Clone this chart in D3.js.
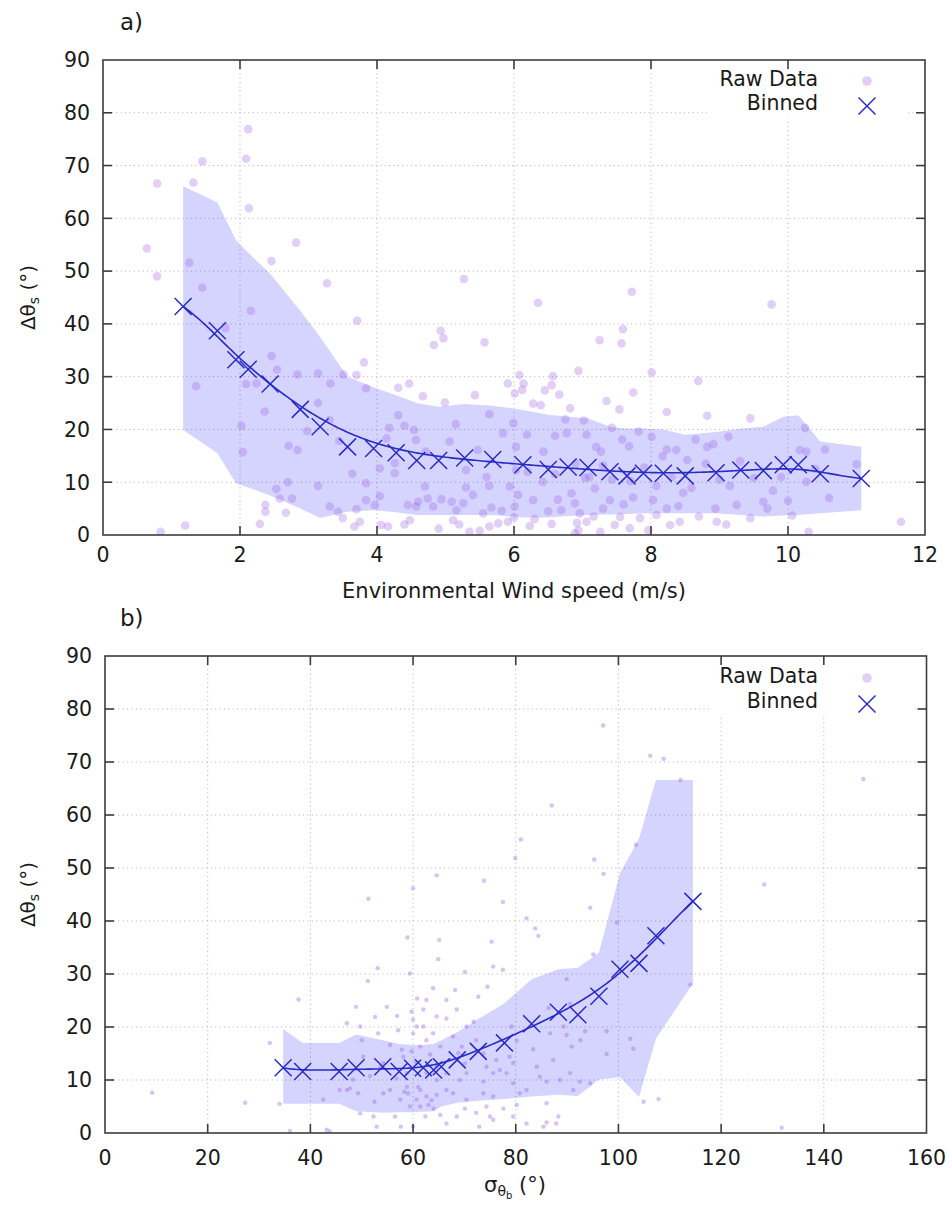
<!DOCTYPE html>
<html>
<head>
<meta charset="utf-8">
<script src="https://cdn.jsdelivr.net/npm/d3@7"></script>
<style>
  html, body { margin: 0; padding: 0; background: #fff; }
  svg { display: block; font-family: "DejaVu Sans", sans-serif; }
</style>
</head>
<body>
<svg id="chart" width="952" height="1209"></svg>
<script>
// ---------------- DATA ----------------
const yTicks = [0, 10, 20, 30, 40, 50, 60, 70, 80, 90];
const topXTicks = [0, 2, 4, 6, 8, 10, 12];
const botXTicks = [0, 20, 40, 60, 80, 100, 120, 140, 160];

// Panel a) binned values
const topBinX = [1.17,1.67,1.94,2.12,2.44,2.88,3.17,3.57,3.95,4.28,4.58,4.90,5.28,5.69,6.13,6.50,6.79,7.08,7.40,7.65,7.89,8.18,8.50,8.95,9.31,9.64,9.93,10.15,10.47,11.07];
const topBinY = [43.3,38.7,33.2,31.4,28.6,23.8,20.5,16.7,16.4,15.6,14.1,14.1,14.6,14.3,13.3,12.4,12.9,12.8,12.0,11.2,11.7,11.7,11.2,11.8,12.3,12.2,13.3,13.3,11.6,10.7];
const topBandHi = [66.1,63.0,55.9,53.5,49.5,42.5,37.5,30.0,28.0,26.5,25.0,24.3,24.8,24.5,23.7,22.8,22.4,22.1,20.5,20.2,20.2,20.0,19.0,19.5,20.2,20.5,22.4,22.7,17.7,16.7];
const topBandLo = [19.9,15.5,9.8,9.0,7.5,5.0,3.2,4.4,4.7,4.3,3.8,3.8,3.8,3.8,3.3,3.3,3.6,3.8,3.9,4.0,4.1,4.1,4.1,4.1,3.8,3.5,3.7,3.8,4.1,4.7];

// Panel a) raw data
const topRawX = [2.12,2.09,1.45,0.79,1.32,2.13,0.64,2.82,1.26,2.46,0.79,1.45,3.27,2.16,1.79,3.71,4.93,4.97,4.83,5.57,5.27,2.46,3.81,2.54,2.84,3.14,3.51,3.70,3.32,1.36,2.09,2.24,3.84,4.31,4.47,4.67,5.43,4.99,3.14,2.36,5.91,6.01,6.08,5.64,4.31,2.02,2.98,3.31,4.18,4.40,4.54,5.15,5.84,5.99,6.03,2.04,2.71,2.84,3.45,4.14,4.57,5.06,5.47,4.04,4.26,4.26,4.71,5.30,3.64,2.70,3.14,3.84,4.70,5.64,5.94,2.53,2.58,2.76,2.37,2.37,2.67,2.29,3.31,3.43,3.50,3.70,3.84,4.04,3.97,3.67,3.75,4.06,4.16,4.45,4.57,4.60,4.74,4.82,4.94,5.09,5.16,5.26,5.40,5.55,5.67,5.82,5.91,4.48,5.11,5.35,5.50,5.64,5.77,1.20,0.84,6.01,6.06,6.03,
  6.35,9.76,7.59,7.25,7.57,7.72,6.94,8.01,6.57,6.14,6.12,6.45,6.66,6.55,8.69,7.74,7.35,6.28,6.39,6.82,7.54,8.23,8.82,9.45,6.75,7.02,7.43,7.82,6.19,6.60,6.77,7.06,7.58,8.01,8.65,9.13,10.25,6.43,7.20,7.27,7.68,8.23,8.37,8.82,8.91,10.54,10.17,10.27,8.17,8.53,11.00,6.42,7.04,7.18,7.43,8.08,8.47,8.59,9.15,9.78,10.27,6.28,6.64,6.84,6.89,7.40,7.74,8.03,8.23,9.64,6.69,6.96,7.16,7.55,7.84,8.08,8.94,9.25,6.23,6.55,6.92,7.06,7.47,7.69,7.96,8.28,8.42,8.96,9.45,10.06,10.30,11.65,6.94,7.26,6.89,
  5.30,5.60,6.20,6.60,6.90,7.10,7.30,7.70,7.90,8.30,8.80,9.00,9.30,9.50,9.90,10.40,6.50,7.30,7.60,8.40,8.70,9.10,9.70,10.00,10.60,6.00,6.30,5.20,4.90,4.40];
const topRawY = [76.9,71.3,70.8,66.6,66.8,61.9,54.3,55.4,51.6,51.9,49.0,46.9,47.7,42.5,39.2,40.6,38.7,37.3,36.0,36.5,48.5,33.9,32.7,31.3,30.4,30.6,30.4,30.3,28.7,28.2,28.6,28.7,27.8,27.9,28.7,26.3,26.5,25.1,25.0,23.4,28.7,26.8,30.3,22.9,22.7,20.7,19.7,21.8,20.3,20.7,19.9,21.0,19.3,21.2,16.7,15.7,16.9,16.1,17.8,18.3,18.0,17.7,16.1,12.6,13.6,11.7,15.8,12.3,11.6,10.0,9.3,9.8,9.2,9.3,9.2,8.7,6.9,6.9,5.7,4.4,4.2,2.1,5.4,4.4,3.2,4.9,6.6,7.4,5.7,1.6,2.5,1.9,1.6,5.7,5.4,6.3,6.9,5.4,6.8,6.3,4.7,6.0,7.6,4.1,5.2,4.6,2.5,2.8,2.8,0.6,0.8,1.6,2.2,1.8,0.6,5.4,7.6,12.3,
  44.0,43.7,39.0,36.9,36.3,46.1,31.1,30.8,30.1,28.7,27.5,27.4,26.6,28.4,29.2,27.0,25.4,24.9,24.6,24.0,23.8,23.3,22.6,22.1,21.9,21.7,20.3,19.6,19.0,18.8,19.3,19.0,18.1,18.6,18.1,18.6,20.3,15.8,16.7,15.8,16.8,16.2,16.1,16.7,17.2,16.2,16.1,15.8,14.9,14.2,13.4,10.1,10.8,8.8,10.5,9.3,8.0,8.9,9.3,8.4,10.1,6.6,6.7,7.9,6.0,6.6,7.1,6.6,5.0,6.3,4.7,4.1,3.5,3.4,3.2,3.8,5.0,5.7,1.7,2.1,2.3,2.5,1.9,1.3,0.9,1.9,2.5,2.5,3.2,3.7,0.6,2.5,0.9,0.6,0.3,
  9.0,11.0,12.0,11.5,13.5,11.0,13.2,10.2,12.8,11.0,13.5,10.5,14.0,10.8,11.0,12.5,4.5,5.0,5.8,5.5,3.5,2.0,5.0,6.5,7.0,3.3,3.0,2.0,1.2,2.0];

// Panel b) binned values
const botBinX = [34.7,38.5,45.6,48.9,54.1,57.3,59.9,62.0,64.0,65.5,68.6,72.7,77.8,83.1,88.3,92.1,96.2,100.3,104.0,107.3,114.5];
const botBinY = [12.3,11.6,11.6,12.3,12.5,11.6,12.2,12.3,11.9,12.5,13.8,15.4,17.0,20.6,22.8,22.3,25.8,30.9,32.0,37.2,43.7];
const botBandHi = [19.6,17.0,17.0,18.6,17.5,16.8,16.6,16.6,16.8,17.5,19.0,21.5,24.5,29.0,30.9,31.2,34.0,49.0,55.5,66.6,66.6];
const botBandLo = [5.5,5.5,5.5,4.1,3.8,3.9,3.9,4.0,4.1,5.0,5.7,6.1,6.4,6.9,7.2,7.0,10.1,10.5,6.8,17.8,28.2];

// Panel b) raw data
const botRawX = [64.6,73.8,60.0,51.3,77.5,82.1,83.8,84.4,65.1,58.9,75.3,64.9,53.1,51.2,48.9,37.7,56.9,59.7,60.8,62.0,63.9,68.2,70.1,72.7,74.5,75.6,77.5,71.8,64.6,66.5,60.7,62.6,57.1,61.4,57.8,63.3,68.8,47.1,47.7,49.3,52.5,54.2,58.3,59.0,61.4,62.6,63.6,64.6,66.5,67.8,69.1,70.4,73.7,75.6,79.5,80.8,84.7,88.6,91.2,49.7,52.3,56.5,61.4,62.4,65.3,68.5,70.1,74.3,77.6,86.0,87.9,82.1,52.9,57.6,60.0,66.5,72.9,85.4,43.8,94.5,89.9,86.4,83.4,80.2,79.2,47.1,49.7,53.2,55.5,50.3,53.6,56.8,58.8,62.6,64.6,58.1,60.0,67.8,70.1,73.7,75.6,78.8,
  9.2,27.3,34.0,59.4,36.0,43.2,32.1,
  97.0,106.2,108.8,112.1,87.0,81.0,95.3,79.9,97.1,95.1,103.4,147.7,128.4,131.8,102.9,104.9,107.8,114.0,99.7,102.3,97.7,97.7,90.6,90.9,92.5,94.5,89.9,93.5,86.0,88.3,80.2,75.0,86.0,76.9,73.7,
  59.7,60.6,61.0,63.0,64.0,60.7,59.4,57.5,55.5,64.6,66.5,67.2,69.5,65.3,63.9,62.0,60.0,70.4,72.3,74.3,76.2,78.2,79.5,82.1,84.1,87.3,90.6,86.7,89.3,92.6,70.4,72.3,75.6,79.5,58.8,54.2,51.6,48.3,45.7,42.5,50.0,52.6,54.9,62.6,66.5,68.5];
const botRawY = [48.6,47.6,46.2,44.2,43.6,40.5,38.6,37.2,36.4,36.9,36.1,32.8,31.1,28.7,23.8,25.2,22.1,22.9,25.4,23.3,27.3,27.0,30.4,25.7,27.6,31.4,30.8,21.0,22.0,21.6,20.1,17.5,19.4,16.3,15.7,14.8,15.1,8.1,8.4,7.5,5.9,7.5,7.8,7.5,8.1,6.9,6.2,7.2,8.1,7.5,10.0,11.3,7.5,6.9,9.4,7.5,10.6,10.0,8.1,3.7,3.1,3.1,5.0,3.1,3.4,3.1,4.6,5.0,4.6,5.6,1.8,1.8,1.2,1.2,1.2,1.8,1.2,1.2,0.3,42.5,29.0,23.6,15.8,17.4,20.1,20.7,20.1,18.8,16.6,14.4,12.5,10.3,11.3,11.3,10.0,14.4,18.8,18.2,13.1,15.0,11.3,14.4,
  7.6,5.7,5.5,30.1,0.4,0.6,17.0,
  76.9,71.2,70.6,66.6,61.8,55.4,51.6,51.9,48.9,33.7,54.4,66.8,46.9,1.0,15.9,5.9,6.4,28.0,39.7,17.8,19.2,14.9,24.4,16.3,9.7,9.4,18.5,19.2,2.0,3.1,5.3,3.1,9.7,11.9,9.7,
  15.4,13.2,8.7,5.3,4.6,6.3,5.0,6.3,8.1,12.5,11.3,13.8,16.3,16.3,18.8,20.1,21.4,20.1,17.5,12.5,13.8,11.3,13.2,8.1,12.5,13.8,11.3,18.8,20.1,17.5,6.3,3.8,2.5,3.1,8.7,13.2,10.7,10.1,8.1,6.3,17.5,21.9,23.8,25.1,25.1,23.3];

// ---------------- HELPERS ----------------
const svg = d3.select("#chart");
const BLUE = "#2a2ac4";
const POINT = "#9a5fe0";

function bezier(pts, steps) {
  const out = [];
  for (let s = 0; s <= steps; s++) {
    const t = s / steps;
    let p = pts.map(d => d.slice());
    for (let k = p.length - 1; k > 0; k--) {
      for (let i = 0; i < k; i++) {
        p[i][0] = p[i][0] * (1 - t) + p[i + 1][0] * t;
        p[i][1] = p[i][1] * (1 - t) + p[i + 1][1] * t;
      }
    }
    out.push(p[0]);
  }
  return out;
}

function panel(cfg) {
  const x = d3.scaleLinear().domain(cfg.xDomain).range([cfg.left, cfg.right]);
  const y = d3.scaleLinear().domain([0, 90]).range([cfg.bottom, cfg.top]);
  const g = svg.append("g");
  const clipId = "clip" + cfg.id;
  g.append("clipPath").attr("id", clipId).append("rect")
    .attr("x", cfg.left).attr("y", cfg.top)
    .attr("width", cfg.right - cfg.left).attr("height", cfg.bottom - cfg.top);

  // grid
  const grid = g.append("g").attr("stroke", "#bcbcbc").attr("stroke-width", 1)
    .attr("stroke-dasharray", "1.2,3.2");
  grid.selectAll("line.gx").data(cfg.xTicks.slice(1, -1)).join("line")
    .attr("x1", d => x(d)).attr("x2", d => x(d))
    .attr("y1", cfg.top).attr("y2", cfg.bottom);
  grid.selectAll("line.gy").data(yTicks.slice(1, -1)).join("line")
    .attr("x1", cfg.left).attr("x2", cfg.right)
    .attr("y1", d => y(d)).attr("y2", d => y(d));

  const plot = g.append("g").attr("clip-path", `url(#${clipId})`);

  // band
  const bandData = cfg.binX.map((v, i) => ({ x: v, lo: cfg.lo[i], hi: cfg.hi[i] }));
  plot.append("path").datum(bandData)
    .attr("fill", "#0000ff").attr("fill-opacity", 0.17)
    .attr("d", d3.area().x(d => x(d.x)).y0(d => y(d.lo)).y1(d => y(d.hi)));

  // raw points
  plot.append("g").selectAll("circle").data(cfg.rawX.map((v, i) => [v, cfg.rawY[i]])).join("circle")
    .attr("cx", d => x(d[0])).attr("cy", d => y(d[1])).attr("r", cfg.pr)
    .attr("fill", POINT).attr("fill-opacity", cfg.pop);

  // smooth line
  const pts = cfg.binX.map((v, i) => [v, cfg.binY[i]]);
  plot.append("path").datum(bezier(pts, 300))
    .attr("fill", "none").attr("stroke", BLUE).attr("stroke-width", 1.6)
    .attr("d", d3.line().x(d => x(d[0])).y(d => y(d[1])));

  // crosses
  const cs = 8.5;
  plot.append("g").selectAll("path").data(pts).join("path")
    .attr("transform", d => `translate(${x(d[0])},${y(d[1])})`)
    .attr("d", `M${-cs},${-cs}L${cs},${cs}M${-cs},${cs}L${cs},${-cs}`)
    .attr("stroke", BLUE).attr("stroke-width", 1.5).attr("fill", "none");

  // legend
  const L = cfg.legend;
  g.append("rect").attr("x", L.x0).attr("y", cfg.top + 1).attr("width", L.x1 - L.x0)
    .attr("height", L.h).attr("fill", "#fff");
  g.append("text").attr("x", 818).attr("y", cfg.top + L.b1).attr("text-anchor", "end")
    .attr("font-size", 20.5).attr("fill", "#1a1a1a").text("Raw Data");
  g.append("text").attr("x", 818).attr("y", cfg.top + L.b2).attr("text-anchor", "end")
    .attr("font-size", 20.5).attr("fill", "#1a1a1a").text("Binned");
  g.append("circle").attr("cx", 867).attr("cy", cfg.top + L.b1 - 5).attr("r", 4.8)
    .attr("fill", POINT).attr("fill-opacity", 0.3);
  g.append("path").attr("transform", `translate(867,${cfg.top + L.b2 - 4})`)
    .attr("d", `M${-cs},${-cs}L${cs},${cs}M${-cs},${cs}L${cs},${-cs}`)
    .attr("stroke", BLUE).attr("stroke-width", 1.5);

  // border + ticks
  const ax = g.append("g").attr("stroke", "#3c3c3c").attr("stroke-width", 1.6);
  ax.append("rect").attr("x", cfg.left).attr("y", cfg.top)
    .attr("width", cfg.right - cfg.left).attr("height", cfg.bottom - cfg.top).attr("fill", "none");
  const tl = 9;
  const inner = cfg.xTicks.slice(1, -1);
  ax.selectAll("line.tb").data(inner).join("line")
    .attr("x1", d => x(d)).attr("x2", d => x(d)).attr("y1", cfg.bottom).attr("y2", cfg.bottom - tl);
  ax.selectAll("line.tt").data(inner).join("line").attr("class", "tt")
    .attr("x1", d => x(d)).attr("x2", d => x(d)).attr("y1", cfg.top).attr("y2", cfg.top + tl);
  const yin = yTicks.slice(1, -1);
  ax.selectAll("line.tl").data(yin).join("line").attr("class", "tl")
    .attr("x1", cfg.left).attr("x2", cfg.left + tl).attr("y1", d => y(d)).attr("y2", d => y(d));
  ax.selectAll("line.tr").data(yin).join("line").attr("class", "tr")
    .attr("x1", cfg.right).attr("x2", cfg.right - tl).attr("y1", d => y(d)).attr("y2", d => y(d));

  // tick labels
  const lab = g.append("g").attr("font-size", 20.5).attr("fill", "#1a1a1a");
  lab.selectAll("text.yl").data(yTicks).join("text").attr("class", "yl")
    .attr("x", cfg.left - 13).attr("y", d => y(d)).attr("dy", "0.36em")
    .attr("text-anchor", "end").text(d => d);
  lab.selectAll("text.xl").data(cfg.xTicks).join("text").attr("class", "xl")
    .attr("x", d => x(d)).attr("y", cfg.xLabBase).attr("text-anchor", "middle").text(d => d);

  // y axis title
  const yt = g.append("text").attr("transform", `translate(35,${(cfg.top + cfg.bottom) / 2}) rotate(-90)`)
    .attr("text-anchor", "middle").attr("font-size", 20).attr("fill", "#1a1a1a");
  yt.append("tspan").text("Δθ");
  yt.append("tspan").attr("font-size", 14).attr("dy", 4).text("s");
  yt.append("tspan").attr("dy", -4).text(" (°)");

  // panel label
  g.append("text").attr("x", 120).attr("y", cfg.top + cfg.panelDy).attr("font-size", 23)
    .attr("fill", "#1a1a1a").text(cfg.panelLabel);

  return { x, y, g };
}

// ---------------- PANEL A ----------------
const A = panel({
  id: "a", xDomain: [0, 12], left: 103, right: 925, top: 60, bottom: 535,
  xTicks: topXTicks, binX: topBinX, binY: topBinY, lo: topBandLo, hi: topBandHi,
  rawX: topRawX, rawY: topRawY, pr: 4.3, pop: 0.3,
  legend: { x0: 708, x1: 907, h: 57, b1: 26, b2: 50 },
  xLabBase: 562, panelLabel: "a)", panelDy: -30
});
A.g.append("text").attr("x", 514).attr("y", 598).attr("text-anchor", "middle")
  .attr("font-size", 21).attr("fill", "#1a1a1a").text("Environmental Wind speed (m/s)");

// ---------------- PANEL B ----------------
const B = panel({
  id: "b", xDomain: [0, 160], left: 105, right: 926.5, top: 656, bottom: 1133,
  xTicks: botXTicks, binX: botBinX, binY: botBinY, lo: botBandLo, hi: botBandHi,
  rawX: botRawX, rawY: botRawY, pr: 2.2, pop: 0.38,
  legend: { x0: 712, x1: 915, h: 58, b1: 27, b2: 52 },
  xLabBase: 1165, panelLabel: "b)", panelDy: -30
});
const bt = B.g.append("text").attr("x", 515).attr("y", 1192).attr("text-anchor", "middle")
  .attr("font-size", 21).attr("fill", "#1a1a1a");
bt.append("tspan").text("σ");
bt.append("tspan").attr("font-size", 14).attr("dy", 4).text("θ");
bt.append("tspan").attr("font-size", 10).attr("dy", 3).text("b");
bt.append("tspan").attr("dy", -7).text(" (°)");
</script>
</body>
</html>
